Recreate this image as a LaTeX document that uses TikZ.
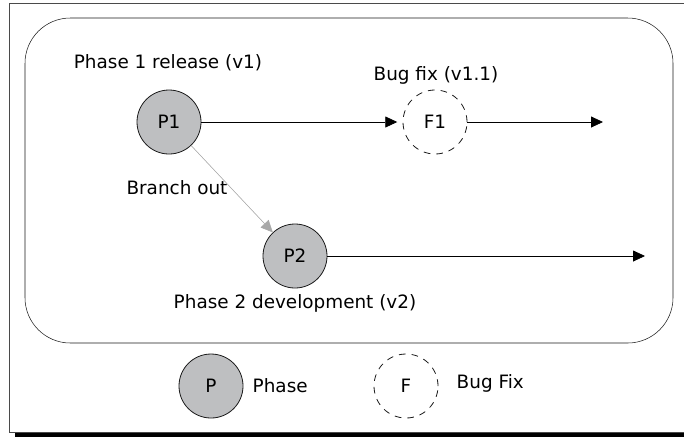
\documentclass[tikz,border=0pt]{standalone}
\usepackage{fontspec}
\setmainfont{DejaVu Sans}
\usepackage{tikz}
\usetikzlibrary{
  arrows.meta,
  positioning
}
\definecolor{phFill}{HTML}{BEBFC1}
\definecolor{phLine}{HTML}{1A1A1A}
\definecolor{brGray}{HTML}{A8A8A8}
\definecolor{frLine}{HTML}{4A4A4A}

\begin{document}
\begin{tikzpicture}[x=0.75pt, y=-0.75pt, font=\fontsize{13.8}{16}\selectfont,
  phase/.style={circle, draw=phLine, semithick, fill=phFill, minimum size=48pt, inner sep=0pt},
  bugfix/.style={circle, draw=phLine, semithick, dash pattern=on 5pt off 4.5pt, minimum size=48pt, inner sep=0pt},
  flow/.style={-{Triangle[length=9pt, width=8.25pt]}, semithick},
  branch/.style={-{Triangle[length=9pt, width=8.25pt]}, draw=brGray, fill=brGray}]
  \useasboundingbox (0,0) rectangle (684,437);
  % outer frame
  \draw[frLine] (684,3) -- (9.5,3) -- (9.5,432) -- (684,432);
  \fill (15,433) rectangle (684,437);
  \draw[phLine, rounded corners=34pt] (25,18) rectangle (673,343);
  % versions
  \node[phase] (p1) at (169,122) {P1};
  \node[bugfix] (f1) at (435,122) {F1};
  \node[phase] (p2) at (295,256) {P2};
  \coordinate (e1) at (603,122);
  \coordinate (e2) at (645,256);
  \node (p1lbl) at (168,63) {Phase 1 release (v1)};
  \node (f1lbl) at (436,75) {Bug fix (v1.1)};
  \node (brlbl) at (177,188) {Branch out};
  \node (p2lbl) at (295,303) {Phase 2 development (v2)};
  \draw[flow, shorten >=4pt] (p1) -- (f1);
  \draw[flow] (f1) -- (e1);
  \draw[flow] (p2) -- (e2);
  \draw[branch] (p1) -- (p2);
  % legend
  \node[phase] (lgp) at (211,386) {P};
  \node[anchor=west] (lgptxt) at (248,386) {Phase};
  \node[bugfix] (lgf) at (406,386) {F};
  \node[anchor=west] (lgftxt) at (452,383) {Bug Fix};
\end{tikzpicture}
\end{document}
